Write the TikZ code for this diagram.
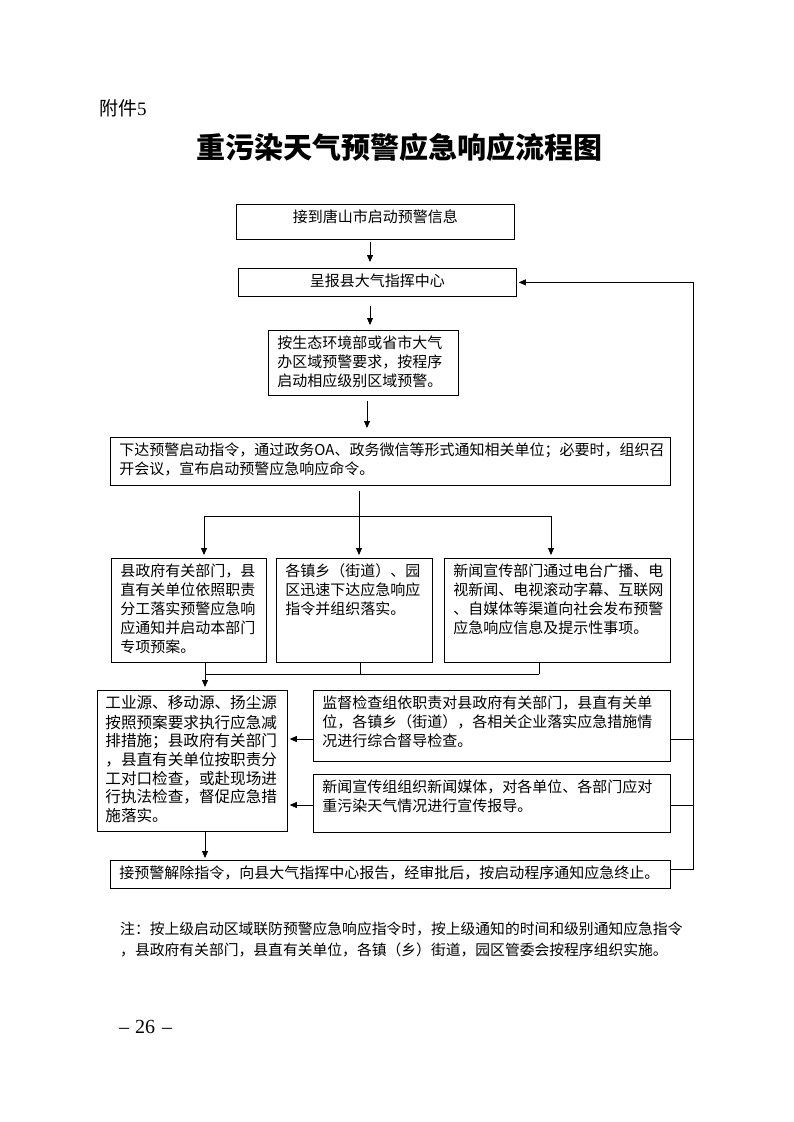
\documentclass[tikz,border=0pt]{standalone}
\usepackage{fontspec}
\newfontfamily\cjk{Noto Sans CJK SC}
\newfontfamily\serif{Liberation Serif}
\usetikzlibrary{arrows.meta}
\newcommand\bodyfont{\cjk\fontsize{15}{19}\selectfont}
\newcommand\bt[3]{\parbox[c][#2pt][t]{#1pt}{\raggedright\strut #3}}
\newcommand\bc[3]{\parbox[c][#2pt][t]{#1pt}{\centering\strut #3}}
\hbadness=10000 \hfuzz=20pt \vfuzz=20pt
\begin{document}
\begin{tikzpicture}[x=1pt,y=-1pt,
  box/.style={draw, line width=0.8pt, anchor=north west, inner xsep=9pt, inner ysep=5pt, font=\bodyfont},
  link/.style={line width=0.8pt},
  arr/.style={link, -{Triangle[length=7pt,width=6pt]}},
  plain/.style={anchor=west, inner sep=0pt}]
\useasboundingbox[fill=white] (0,0) rectangle (793,1122);

\node[plain, font=\cjk\fontsize{19}{19}\selectfont] (att) at (99,108) {附件{\serif 5}};
\node[font=\cjk\bfseries\fontsize{29}{29}\selectfont] (title) at (399,147) {重污染天气预警应急响应流程图};

\node[box] (b1) at (236,204) {\bc{260}{25}{接到唐山市启动预警信息}};
\node[box] (b2) at (238,268) {\bc{260}{18}{呈报县大气指挥中心}};
\node[box] (b3) at (268,330) {\bt{172}{55}{按生态环境部或省市大气\\办区域预警要求，按程序\\启动相应级别区域预警。}};
\node[box] (b4) at (110,437) {\bt{542}{38}{下达预警启动指令，通过政务OA、政务微信等形式通知相关单位；必要时，组织召\\开会议，宣布启动预警应急响应命令。}};
\node[box] (b5a) at (111,558) {\bt{137}{94}{县政府有关部门，县\\直有关单位依照职责\\分工落实预警应急响\\应通知并启动本部门\\专项预案。}};
\node[box] (b5b) at (276,558) {\bt{138}{94}{各镇乡（街道）、园\\区迅速下达应急响应\\指令并组织落实。}};
\node[box] (b5c) at (444,558) {\bt{208}{94}{新闻宣传部门通过电台广播、电\\视新闻、电视滚动字幕、互联网\\、自媒体等渠道向社会发布预警\\应急响应信息及提示性事项。}};
\node[box, font=\cjk\fontsize{15.6}{18.6}\selectfont, inner xsep=8pt] (b6) at (97,690) {\bt{174}{131}{工业源、移动源、扬尘源\\按照预案要求执行应急减\\排措施；县政府有关部门\\，县直有关单位按职责分\\工对口检查，或赴现场进\\行执法检查，督促应急措\\施落实。}};
\node[box] (b7) at (313,690) {\bt{339}{61}{监督检查组依职责对县政府有关部门，县直有关单\\位，各镇乡（街道），各相关企业落实应急措施情\\况进行综合督导检查。}};
\node[box] (b8) at (313,774) {\bt{339}{48}{新闻宣传组组织新闻媒体，对各单位、各部门应对\\重污染天气情况进行宣传报导。}};
\node[box] (b9) at (110,860) {\bt{542}{18}{接预警解除指令，向县大气指挥中心报告，经审批后，按启动程序通知应急终止。}};

\node[plain, font=\cjk\fontsize{14.8}{19}\selectfont] (note1) at (120,929) {注：按上级启动区域联防预警应急响应指令时，按上级通知的时间和级别通知应急指令};
\node[plain, font=\cjk\fontsize{14.8}{19}\selectfont] (note2) at (120,950) {，县政府有关部门，县直有关单位，各镇（乡）街道，园区管委会按程序组织实施。};
\node[plain, font=\serif\fontsize{20}{20}\selectfont] (pg) at (119,1027) {–\hspace{6pt}26\hspace{7pt}–};

\coordinate (xa) at (370,0);
\coordinate (xb) at (367,0);
\coordinate (xm) at (359,0);
\coordinate (xl) at (204,0);
\coordinate (xr) at (551,0);
\coordinate (xs) at (205,0);
\coordinate (xt) at (360,0);
\coordinate (xu) at (539,0);
\coordinate (xf) at (693,0);
\coordinate (yj1) at (0,516);
\coordinate (yj2) at (0,674);
\coordinate (ya7) at (0,739);
\coordinate (ya8) at (0,805);
\coordinate (yr9) at (0,869);

\draw[arr, shorten <=2pt, shorten >=6pt] (xa |- b1.south) -- (xa |- b2.north);
\draw[arr, shorten <=9pt, shorten >=5pt] (xa |- b2.south) -- (xa |- b3.north);
\draw[arr, shorten <=5pt, shorten >=9pt] (xb |- b3.south) -- (xb |- b4.north);
\draw[arr, shorten <=5pt, shorten >=3pt] (xm |- b4.south) -- (xm |- b5b.north);
\draw[link] (xl |- yj1) -- (xr |- yj1);
\draw[arr, shorten >=3pt] (xl |- yj1) -- (xl |- b5a.north);
\draw[arr, shorten >=3pt] (xr |- yj1) -- (xr |- b5c.north);
\draw[arr, shorten >=3pt] (xs |- b5a.south) -- (xs |- b6.north);
\draw[link] (xs |- yj2) -- (xu |- yj2);
\draw[link] (xt |- b5b.south) -- (xt |- yj2);
\draw[link] (xu |- b5c.south) -- (xu |- yj2);
\draw[arr, shorten >=2pt] (b7.west |- ya7) -- (b6.east |- ya7);
\draw[arr, shorten >=2pt] (b8.west |- ya8) -- (b6.east |- ya8);
\draw[arr, shorten >=2pt] (xs |- b6.south) -- (xs |- b9.north);
\draw[link] (b7.east |- ya7) -- (xf |- ya7);
\draw[link] (b8.east |- ya8) -- (xf |- ya8);
\draw[arr, shorten >=2pt] (b9.east |- yr9) -- (xf |- yr9) -- (xf |- b2.east) -- (b2.east);
\end{tikzpicture}
\end{document}
